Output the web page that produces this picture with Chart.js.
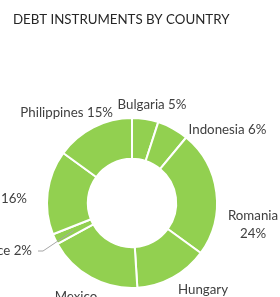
<!DOCTYPE html>
<html>
<head>
<meta charset="utf-8">
<script src="https://cdn.jsdelivr.net/npm/chart.js@4"></script>
<style>
  html, body { margin: 0; padding: 0; background: #fff; }
  #wrap { position: relative; width: 280px; height: 297px; overflow: hidden; }
</style>
</head>
<body>
<div id="wrap"><canvas id="chart" width="280" height="297"></canvas></div>
<script>
  // --- Data ---
  const countries = ['Bulgaria', 'Indonesia', 'Romania', 'Hungary', 'Mexico', 'France', 'Turkey', 'Philippines'];
  const shares = [5, 6, 24, 14, 18, 2, 16, 15];
  const chartTitle = 'DEBT INSTRUMENTS BY COUNTRY';

  // --- Label placement (offset from doughnut centre, px) ---
  // [dx, dy, align, twoLines]
  const labelPlacement = [
    [20, -98, 'center', false],
    [95.5, -73, 'center', false],
    [121, 22, 'center', true],
    [71, 96, 'center', true],
    [-56, 103, 'center', true],
    [-100, 48, 'right', false],
    [-105, -4, 'right', false],
    [-19, -90, 'right', false]
  ];
  const leaderLines = [5]; // France has a leader line

  const FONT = '13.3px Lato, "Open Sans", sans-serif';

  /**
   * Draws the title and the Excel-style outside labels.
   */
  const labelPlugin = {
    id: 'outsideLabels',
    afterDraw(chart) {
      const ctx = chart.ctx;
      const meta = chart.getDatasetMeta(0);
      ctx.save();

      // title
      ctx.font = FONT;
      ctx.fillStyle = '#262626';
      ctx.textAlign = 'left';
      ctx.textBaseline = 'middle';
      ctx.fillText(chartTitle, 13, 20);

      ctx.fillStyle = '#404040';
      meta.data.forEach((arc, i) => {
        const [dx, dy, align, twoLines] = labelPlacement[i];
        const x = arc.x + dx;
        const y = arc.y + dy;
        const pct = shares[i] + '%';
        ctx.textAlign = align;
        if (twoLines) {
          ctx.fillText(countries[i], x, y - 9);
          ctx.fillText(pct, x, y + 9);
        } else {
          ctx.fillText(countries[i] + ' ' + pct, x, y);
        }
      });

      // leader lines to the middle of the ring
      ctx.strokeStyle = '#a6a6a6';
      ctx.lineWidth = 1;
      leaderLines.forEach(i => {
        const arc = meta.data[i];
        const [dx, dy] = labelPlacement[i];
        const mid = (arc.startAngle + arc.endAngle) / 2;
        const r = (arc.innerRadius + arc.outerRadius) / 2;
        const ex = arc.x + Math.cos(mid) * r;
        const ey = arc.y + Math.sin(mid) * r;
        const sx = arc.x + dx + 6;
        ctx.beginPath();
        ctx.moveTo(sx, arc.y + dy);
        ctx.lineTo(sx + 5, arc.y + dy);
        ctx.lineTo(ex, ey);
        ctx.stroke();
      });

      ctx.restore();
    }
  };

  // --- Chart ---
  new Chart(document.getElementById('chart'), {
    type: 'doughnut',
    data: {
      labels: countries,
      datasets: [{
        data: shares,
        backgroundColor: '#92d050',
        borderColor: '#ffffff',
        borderWidth: 2,
        hoverOffset: 0
      }]
    },
    options: {
      responsive: false,
      animation: false,
      cutout: '52%',
      layout: { padding: { left: 46, top: 117, right: 62, bottom: 8 } },
      plugins: {
        legend: { display: false },
        tooltip: { enabled: false },
        title: { display: false }
      }
    },
    plugins: [labelPlugin]
  });
</script>
</body>
</html>
